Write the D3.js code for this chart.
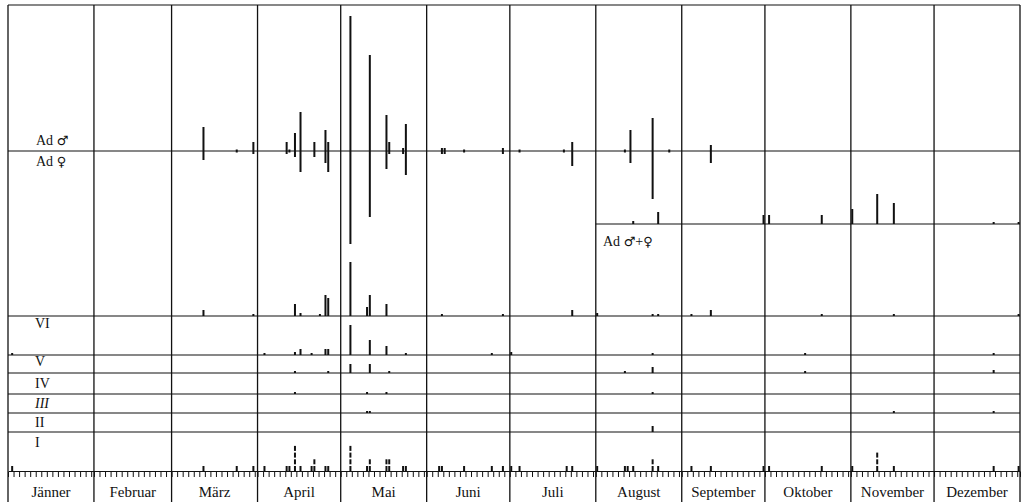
<!DOCTYPE html>
<html>
<head>
<meta charset="utf-8">
<script src="https://cdn.jsdelivr.net/npm/d3@7"></script>
<style>
  body { margin: 0; background: #fff; }
  text { font-family: "Liberation Serif", "DejaVu Serif", serif; fill: #111; }
  .sym { font-family: "DejaVu Sans", sans-serif; }
</style>
</head>
<body>
<div id="svg-container"></div>
<script>
////////////////////////////////////////////////////////////////////
////////////////////////////  Data  ////////////////////////////////
const months = ["Jänner", "Februar", "März", "April", "Mai", "Juni",
  "Juli", "August", "September", "Oktober", "November", "Dezember"];

// adults: [date, males (up), females (down)]   0 = dot only
const adults = [
  ["03-12", 8, 3], ["03-24", 0, 0], ["03-30", 3, 1], ["04-11", 3, 1],
  ["04-12", 0, 0], ["04-14", 6, 2], ["04-16", 13, 7], ["04-21", 3, 2],
  ["04-25", 7, 4], ["04-26", 3, 7], ["05-04", 45, 31], ["05-11", 32, 22],
  ["05-17", 12, 6], ["05-18", 3, 1], ["05-23", 1, 1], ["05-24", 9, 8],
  ["06-06", 1, 1], ["06-07", 1, 1], ["06-14", 0, 0], ["06-28", 1, 1],
  ["07-04", 0, 0], ["07-20", 0, 0], ["07-23", 3, 5], ["08-11", 0, 0],
  ["08-13", 7, 4], ["08-21", 11, 16], ["08-27", 0, 0], ["09-11", 2, 4],
];

// adults ♂+♀ (from August on)
const adultsSum = [
  ["08-14", 1], ["08-23", 4], ["09-30", 3], ["10-02", 3], ["10-21", 3],
  ["11-01", 5], ["11-10", 10], ["11-16", 7], ["12-22", 0], ["12-31", 0],
];

// unlabelled row above VI
const rowTop = [
  ["03-12", 2], ["03-30", 0], ["04-14", 4], ["04-16", 1], ["04-23", 0],
  ["04-25", 7], ["04-26", 6], ["05-04", 18], ["05-10", 3], ["05-11", 7],
  ["05-17", 4], ["06-06", 0], ["06-28", 0], ["07-23", 2], ["08-01", 1],
  ["08-21", 0], ["08-23", 0], ["09-04", 0], ["09-11", 2], ["10-21", 0],
  ["11-16", 0], ["12-31", 0],
];

const stageVI = [
  ["01-02", 0], ["04-03", 0], ["04-14", 1], ["04-16", 2], ["04-20", 0],
  ["04-25", 2], ["04-26", 2], ["05-04", 10], ["05-11", 5], ["05-17", 3],
  ["05-24", 0], ["06-24", 0], ["07-01", 1], ["08-21", 0], ["10-15", 0],
  ["12-22", 0],
];
const stageV = [
  ["04-14", 0], ["04-26", 0], ["05-04", 3], ["05-11", 3], ["05-18", 0],
  ["08-11", 0], ["08-21", 2], ["10-15", 0], ["12-22", 1],
];
const stageIV = [["04-14", 0], ["05-10", 0], ["05-17", 0], ["08-21", 0]];
const stageIII = [["05-10", 0], ["05-11", 0], ["11-16", 0], ["12-22", 0]];
const stageII = [["08-21", 2]];
// stage I: number of stacked marks
const stageI = [
  ["01-02", 1], ["03-12", 1], ["03-24", 1], ["03-30", 1], ["04-03", 1],
  ["04-11", 1], ["04-12", 1], ["04-14", 4], ["04-16", 1], ["04-20", 1],
  ["04-21", 2], ["04-25", 1], ["04-26", 1], ["05-04", 4], ["05-10", 1],
  ["05-11", 2], ["05-17", 2], ["05-18", 2], ["05-23", 1], ["05-24", 1],
  ["06-05", 1], ["06-06", 1], ["06-14", 1], ["06-24", 1], ["06-28", 1],
  ["07-01", 1], ["07-04", 1], ["07-21", 1], ["07-23", 1], ["08-01", 1],
  ["08-11", 1], ["08-12", 1], ["08-14", 1], ["08-21", 2], ["08-23", 1],
  ["09-04", 1], ["09-11", 1], ["09-30", 1], ["10-02", 1], ["10-21", 1],
  ["11-01", 1], ["11-10", 3], ["11-16", 1], ["12-22", 1], ["12-31", 1],
];

////////////////////////////////////////////////////////////////////
////////////////////////////  Init  ////////////////////////////////
const width = 1028, height = 502;
const xLeft = 8, xRight = 1020, yTop = 5;

const svg = d3.select("#svg-container").append("svg")
  .attr("width", width).attr("height", height);

const parse = d3.timeParse("%m-%d");
const start = new Date(1900, 0, 1), end = new Date(1901, 0, 1);
const x = d3.scaleTime().domain([start, end]).range([xLeft, xRight]);
const xc = (s) => x(d3.timeHour.offset(parse(s), 12));

// one unit = 3 px
const unit = d3.scaleLinear().domain([0, 1]).range([0, 3]);

// baselines
const yAd = 151, yAdSum = 224;
const rows = [
  { name: null, base: 316, data: rowTop },
  { name: "VI", base: 355, data: stageVI },
  { name: "V", base: 373, data: stageV },
  { name: "IV", base: 394, data: stageIV },
  { name: "III", base: 413, data: stageIII },
  { name: "II", base: 432, data: stageII },
];
const yI = 471;

const ink = "#111";
const barW = 2;

////////////////////////////////////////////////////////////////////
////////////////////////////  Frame  ///////////////////////////////
const monthStarts = d3.timeMonth.range(start, end).concat([end]);

svg.append("line")
  .attr("x1", xLeft).attr("x2", xRight).attr("y1", yTop).attr("y2", yTop)
  .attr("stroke", ink).attr("stroke-width", 1.2);

svg.selectAll(".month-line")
  .data(monthStarts)
  .enter()
  .append("line")
  .attr("x1", (d) => x(d)).attr("x2", (d) => x(d))
  .attr("y1", yTop).attr("y2", height)
  .attr("stroke", ink).attr("stroke-width", 1.3);

svg.selectAll(".month-label")
  .data(months)
  .enter()
  .append("text")
  .attr("x", (d, i) => (x(monthStarts[i]) + x(monthStarts[i + 1])) / 2)
  .attr("y", 497)
  .attr("text-anchor", "middle")
  .attr("font-size", 15)
  .text((d) => d);

// horizontal baselines
const hline = (y, x1) => svg.append("line")
  .attr("x1", x1).attr("x2", xRight).attr("y1", y).attr("y2", y)
  .attr("stroke", ink).attr("stroke-width", 1.1);

hline(yAd, xLeft);
hline(yAdSum, x(parse("08-01")));
rows.forEach((r) => hline(r.base, xLeft));

// bottom axis with 2-day ticks
const axis = d3.axisBottom(x)
  .ticks(d3.timeDay.every(2))
  .tickSize(6)
  .tickSizeOuter(0)
  .tickFormat("");
const ax = svg.append("g").attr("transform", `translate(0, ${yI})`).call(axis);
ax.select(".domain").attr("stroke", ink).attr("stroke-width", 1.2);
ax.selectAll(".tick line").attr("stroke", ink).attr("stroke-width", 1).attr("y1", 1);

////////////////////////////////////////////////////////////////////
////////////////////////////  Marks  ///////////////////////////////
const g = svg.append("g").attr("fill", ink);

// adults ♂ up, ♀ down
g.selectAll(".ad-m")
  .data(adults)
  .enter()
  .append("rect")
  .attr("x", (d) => xc(d[0]) - barW / 2)
  .attr("width", barW)
  .attr("y", (d) => yAd - Math.max(1.5, unit(d[1])))
  .attr("height", (d) => Math.max(1.5, unit(d[1])));

g.selectAll(".ad-f")
  .data(adults)
  .enter()
  .append("rect")
  .attr("x", (d) => xc(d[0]) - barW / 2)
  .attr("width", barW)
  .attr("y", yAd)
  .attr("height", (d) => Math.max(1.5, unit(d[2])));

const upBars = (data, base) => g.append("g")
  .selectAll("rect")
  .data(data)
  .enter()
  .append("rect")
  .attr("x", (d) => xc(d[0]) - barW / 2)
  .attr("width", barW)
  .attr("y", (d) => base - Math.max(2, unit(d[1])))
  .attr("height", (d) => Math.max(2, unit(d[1])));

upBars(adultsSum, yAdSum);
rows.forEach((r) => upBars(r.data, r.base));

// stage I as stacked segments
const segH = 5, segGap = 1.7;
const segs = stageI.flatMap((d) => d3.range(d[1]).map((i) => ({ date: d[0], i })));
g.selectAll(".seg")
  .data(segs)
  .enter()
  .append("rect")
  .attr("x", (d) => xc(d.date) - barW / 2)
  .attr("width", barW)
  .attr("y", (d) => yI - segH - d.i * (segH + segGap))
  .attr("height", segH);

////////////////////////////////////////////////////////////////////
////////////////////////////  Labels  //////////////////////////////
const adLabel = (xp, yp, parts) => {
  const t = svg.append("text").attr("x", xp).attr("y", yp).attr("font-size", 14);
  parts.forEach(([s, sym]) => {
    t.append("tspan")
      .attr("class", sym ? "sym" : null)
      .attr("font-size", sym ? 13 : 14)
      .text(s);
  });
};
adLabel(36, 145, [["Ad ", false], ["♂", true]]);
adLabel(36, 166, [["Ad ", false], ["♀", true]]);
adLabel(603, 246, [["Ad ", false], ["♂", true], ["+", false], ["♀", true]]);

const labelY = { VI: 328, V: 366, IV: 388, III: 408, II: 427, I: 447 };
Object.entries(labelY).forEach(([k, y]) => {
  svg.append("text")
    .attr("x", 35).attr("y", y)
    .attr("font-size", 14)
    .attr("font-style", k === "III" ? "italic" : "normal")
    .text(k);
});
</script>
</body>
</html>
